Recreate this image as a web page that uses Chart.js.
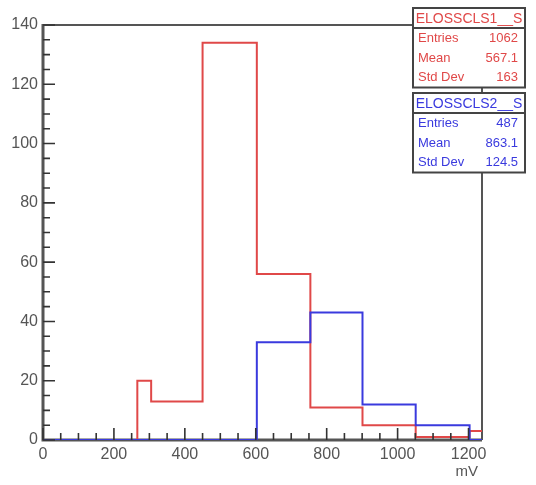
<!DOCTYPE html>
<html><head><meta charset="utf-8">
<script src="https://cdn.jsdelivr.net/npm/chart.js@4/dist/chart.umd.min.js"></script>
<style>html,body{margin:0;padding:0;background:#fff}</style>
</head><body>
<canvas id="c" width="536" height="485"></canvas>
<script>
// ---- data (bin low edges in mV, counts) ----
const redEdges   = [0, 266, 305, 450, 603, 754, 901, 1051, 1203, 1238];
const redCounts  = [0, 20, 13, 134, 56, 11, 5, 1, 3, 3];
const blueEdges  = [0, 603, 754, 901, 1051, 1203, 1238];
const blueCounts = [0, 33, 43, 12, 5, 0, 0];
const xTickValues = [0, 200, 400, 600, 800, 1000, 1200];
const yTickValues = [0, 20, 40, 60, 80, 100, 120, 140];
const statNames  = ['Entries', 'Mean', 'Std Dev'];
const redTitle   = 'ELOSSCLS1__S';
const redStats   = ['1062', '567.1', '163'];
const blueTitle  = 'ELOSSCLS2__S';
const blueStats  = ['487', '863.1', '124.5'];
const xUnit = 'mV';

const RED = '#e04848';
const BLUE = '#3a3ade';
const AXIS = '#555';
const FONT = '"Liberation Sans", Arial, sans-serif';

const toPts = (e, c) => e.map((x, i) => ({x: x, y: c[i]}));

const framePlugin = {
  id: 'frame',
  beforeDatasetsDraw(chart) {
    const {ctx, chartArea: a} = chart;
    ctx.save();
    ctx.strokeStyle = AXIS;
    ctx.lineWidth = 2;
    ctx.beginPath();
    ctx.moveTo(a.left, a.top); ctx.lineTo(a.right, a.top);
    ctx.moveTo(a.right, a.top); ctx.lineTo(a.right, a.bottom);
    ctx.stroke();
    ctx.lineWidth = 3;
    ctx.beginPath();
    ctx.moveTo(a.left, a.top - 1); ctx.lineTo(a.left, a.bottom + 1.5);
    ctx.moveTo(a.left - 1.5, a.bottom); ctx.lineTo(a.right, a.bottom);
    ctx.stroke();
    ctx.restore();
  },
  afterDatasetsDraw(chart) {
    const {ctx, chartArea: a, scales: {x, y}} = chart;
    ctx.save();
    ctx.strokeStyle = '#333';
    ctx.lineWidth = 1.6;
    ctx.beginPath();
    for (let v = 0; v <= 140; v += 5) {
      const py = y.getPixelForValue(v);
      const len = v % 20 === 0 ? 12 : 7;
      ctx.moveTo(a.left, py); ctx.lineTo(a.left + len, py);
    }
    for (let v = 0; v <= 1238; v += 50) {
      const px = x.getPixelForValue(v);
      const len = v % 200 === 0 ? 12 : 7;
      ctx.moveTo(px, a.bottom); ctx.lineTo(px, a.bottom - len);
    }
    ctx.stroke();

    // unit label
    ctx.fillStyle = AXIS;
    ctx.font = '15px ' + FONT;
    ctx.textAlign = 'right';
    ctx.textBaseline = 'middle';
    ctx.fillText(xUnit, a.right - 4, 472);

    // stats boxes
    const drawBox = (top, title, vals, color) => {
      const L = 413, R = 525, rowH = 19.5, titleH = 20;
      const H = titleH + rowH * 3 + 1;
      ctx.fillStyle = '#fff';
      ctx.fillRect(L, top, R - L, H);
      ctx.strokeStyle = '#444';
      ctx.lineWidth = 2;
      ctx.strokeRect(L, top, R - L, H);
      ctx.beginPath();
      ctx.moveTo(L, top + titleH); ctx.lineTo(R, top + titleH);
      ctx.stroke();
      ctx.fillStyle = color;
      ctx.textBaseline = 'middle';
      ctx.font = '14px ' + FONT;
      ctx.textAlign = 'center';
      ctx.fillText(title, (L + R) / 2, top + titleH / 2 + 1, R - L - 2);
      ctx.font = '13px ' + FONT;
      vals.forEach((v, i) => {
        const cy = top + titleH + rowH * (i + 0.5) + 1;
        ctx.textAlign = 'left';
        ctx.fillText(statNames[i], L + 5, cy);
        ctx.textAlign = 'right';
        ctx.fillText(v, R - 7, cy);
      });
    };
    drawBox(8, redTitle, redStats, RED);
    drawBox(93, blueTitle, blueStats, BLUE);
    ctx.restore();
  }
};

new Chart(document.getElementById('c'), {
  type: 'line',
  data: {
    datasets: [
      {label: blueTitle, data: toPts(blueEdges, blueCounts), stepped: 'before',
       borderColor: BLUE, borderWidth: 2, pointRadius: 0, fill: false},
      {label: redTitle, data: toPts(redEdges, redCounts), stepped: 'before',
       borderColor: RED, borderWidth: 2, pointRadius: 0, fill: false}
    ]
  },
  options: {
    responsive: false,
    animation: false,
    events: [],
    layout: {padding: {top: 25, right: 54, left: 0, bottom: 0}},
    plugins: {legend: {display: false}, tooltip: {enabled: false}},
    scales: {
      x: {
        type: 'linear', min: 0, max: 1238,
        afterFit(s) { s.height = 45; },
        afterBuildTicks(s) { s.ticks = xTickValues.map(v => ({value: v})); },
        grid: {display: false, drawTicks: false},
        border: {display: false},
        ticks: {color: AXIS, font: {family: FONT, size: 16}, padding: 5,
                maxRotation: 0, autoSkip: false, callback: v => String(v)}
      },
      y: {
        type: 'linear', min: 0, max: 140,
        afterFit(s) { s.width = 43; },
        afterBuildTicks(s) { s.ticks = yTickValues.map(v => ({value: v})); },
        grid: {display: false, drawTicks: false},
        border: {display: false},
        ticks: {color: AXIS, font: {family: FONT, size: 16}, padding: 5,
                callback: v => String(v)}
      }
    }
  },
  plugins: [framePlugin]
});
</script>
</body></html>
